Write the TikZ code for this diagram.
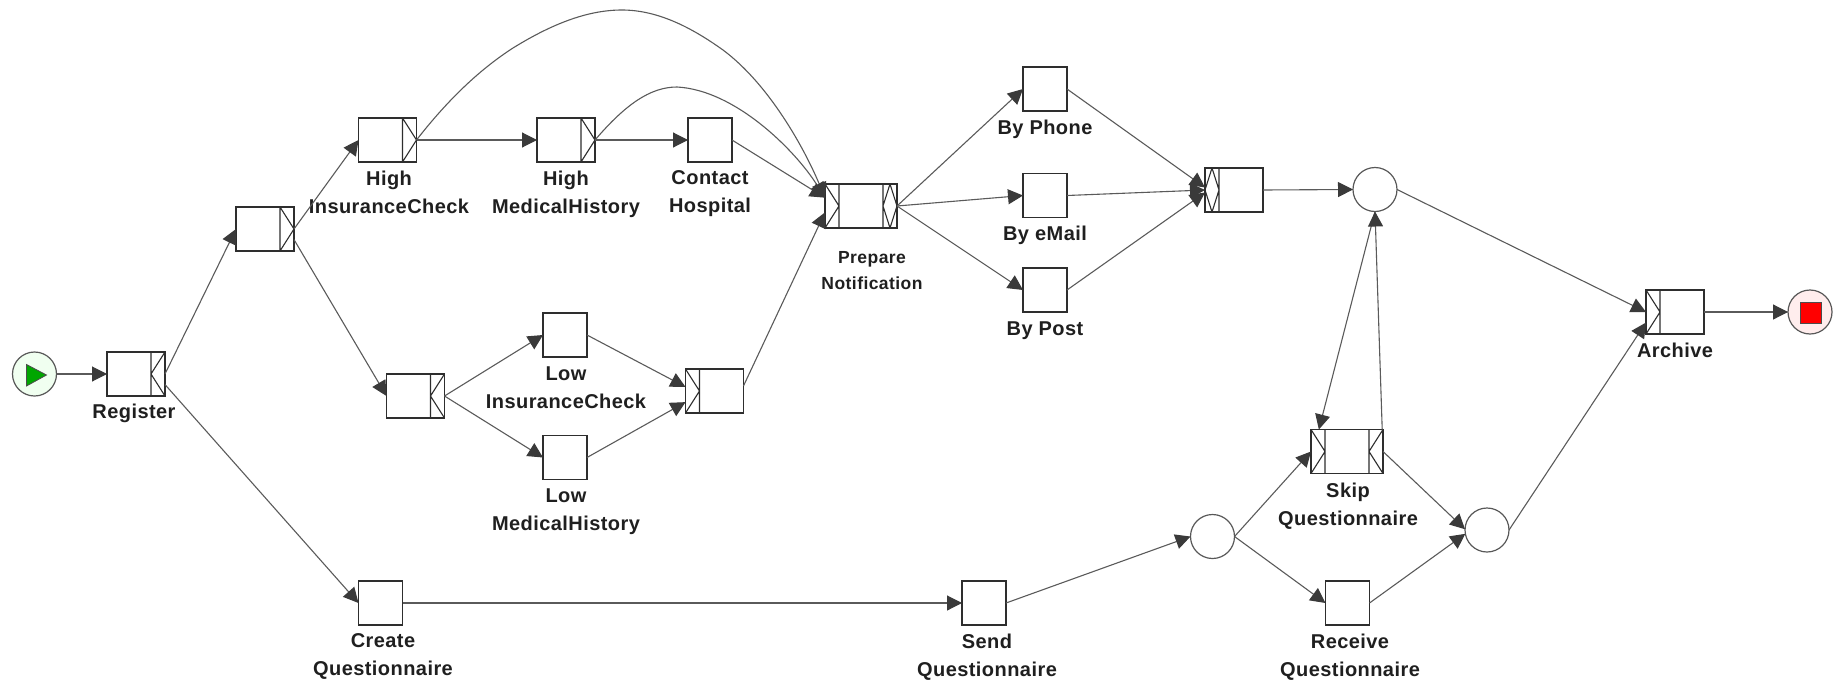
\documentclass[tikz,border=0pt]{standalone}
\usepackage{fontspec}
\setmainfont{Liberation Sans}
\usetikzlibrary{arrows.meta}
\definecolor{edgecol}{HTML}{5A5A5A}
\definecolor{tipcol}{HTML}{3A3A3A}
\definecolor{boxcol}{HTML}{2E2E2E}
\newcommand{\pb}{path picture bounding box}
\newcommand{\mkOutGt}{\draw[inmark] ([xshift=-14pt]\pb.north east)--([xshift=-14pt]\pb.south east)
  ([xshift=-14pt]\pb.north east)--(\pb.east)--([xshift=-14pt]\pb.south east);}
\newcommand{\mkOutLt}{\draw[inmark] ([xshift=-14pt]\pb.north east)--([xshift=-14pt]\pb.south east)
  (\pb.north east)--([xshift=-14pt]\pb.east)--(\pb.south east);}
\newcommand{\mkOutDia}{\draw[inmark] ([xshift=-14pt]\pb.north east)--([xshift=-14pt]\pb.south east)
  ([xshift=-7pt]\pb.north east)--([xshift=-14pt]\pb.east)--([xshift=-7pt]\pb.south east)--(\pb.east)--cycle;}
\newcommand{\mkInGt}{\draw[inmark] ([xshift=14pt]\pb.north west)--([xshift=14pt]\pb.south west)
  (\pb.north west)--([xshift=14pt]\pb.west)--(\pb.south west);}
\newcommand{\mkInDia}{\draw[inmark] ([xshift=14pt]\pb.north west)--([xshift=14pt]\pb.south west)
  ([xshift=7pt]\pb.north west)--(\pb.west)--([xshift=7pt]\pb.south west)--([xshift=14pt]\pb.west)--cycle;}
\tikzset{
  inmark/.style={line width=1.1pt,draw=boxcol},
  task/.style={draw=boxcol,line width=1.1pt,fill=white,inner sep=0pt,outer sep=0pt,minimum width=#1,minimum height=44pt},
  task/.default=44pt,
  place/.style={circle,draw=boxcol!80,line width=1.2pt,fill=white,inner sep=0pt,outer sep=0pt,minimum size=44pt},
  edge/.style={draw=edgecol,line width=1.1pt,-{Triangle[length=15pt,width=15pt,fill=tipcol,color=tipcol]}},
  labstrut/.style={execute at begin node={\rule{0pt}{15pt}},execute at end node={\rule[-5pt]{0pt}{5pt}}},
  lab/.style={labstrut,font=\bfseries\fontsize{20}{28}\selectfont\addfontfeature{LetterSpace=2.2},text=black!88,align=center,inner sep=0pt},
}
\begin{document}
\begin{tikzpicture}[x=1pt,y=-1pt]
\useasboundingbox (0,0) rectangle (1833,680);
% start / end
\node[place,fill=green!6] (start) at (34.5,374) {};
\fill[fill=green!65!black,draw=black!70,line width=0.8pt] (26.5,364.5) -- (46.5,375) -- (26.5,386) -- cycle;
\node[place,fill=red!7] (stop) at (1810,312) {};
\node[draw=black!70,line width=1pt,fill=red,inner sep=0pt,minimum size=21pt] (stopmark) at (1810.5,312.5) {};
% tasks
\node[task=58pt,path picture={\mkOutLt}] (reg) at (136,374) {};
\node[task=58pt,path picture={\mkOutGt}] (sa) at (265,229) {};
\node[task=58pt,path picture={\mkOutLt}] (sb) at (415.5,396) {};
\node[task=58pt,path picture={\mkOutGt}] (hi) at (387.5,140) {};
\node[task=58pt,path picture={\mkOutGt}] (hm) at (566,140) {};
\node[task] (ch) at (710,140) {};
\node[task] (li) at (565,335) {};
\node[task] (lm) at (565,457.5) {};
\node[task=58pt,path picture={\mkInGt}] (lj) at (714.5,391) {};
\node[task=72pt,path picture={\mkInGt\mkOutDia}] (pn) at (861,206) {};
\node[task] (bph) at (1045,89) {};
\node[task] (bem) at (1045,195.5) {};
\node[task] (bpo) at (1045,290) {};
\node[task=58pt,path picture={\mkInDia}] (jn) at (1234,190) {};
\node[place] (c1) at (1375,189.5) {};
\node[task=58pt,path picture={\mkInGt}] (ar) at (1675,312) {};
\node[task=72pt,path picture={\mkInGt\mkOutLt}] (sk) at (1347,451.5) {};
\node[place] (c2) at (1487,530) {};
\node[place] (c3) at (1212.5,536.5) {};
\node[task] (cq) at (380.5,603) {};
\node[task] (sq) at (984,603) {};
\node[task] (rq) at (1347.5,603) {};
% labels
\node[lab] (t1) at (134,413.5) {Register};
\node[lab] (t2) at (389,194.5) {High\\InsuranceCheck};
\node[lab] (t3) at (566,194.5) {High\\MedicalHistory};
\node[lab] (t4) at (710,194.5) {Contact\\Hospital};
\node[lab] (t5) at (566,390) {Low\\InsuranceCheck};
\node[lab] (t6) at (566,512) {Low\\MedicalHistory};
\node[lab,font=\bfseries\fontsize{17.5}{26}\selectfont\addfontfeature{LetterSpace=2.5}] (t7) at (872,272.5) {Prepare\\Notification};
\node[lab] (t8) at (1045,129) {By Phone};
\node[lab] (t9) at (1045,235) {By eMail};
\node[lab] (t10) at (1045,330.5) {By Post};
\node[lab] (t11) at (1348,507) {Skip\\Questionnaire};
\node[lab] (t12) at (1675,352.5) {Archive};
\node[lab] (t13) at (383,657.5) {Create\\Questionnaire};
\node[lab] (t14) at (987,657.5) {Send\\Questionnaire};
\node[lab] (t15) at (1350,657.5) {Receive\\Questionnaire};
% connectors
\draw[edge] (start.east) -- (reg.west);
\draw[edge] (reg.east) -- (sa.west);
\draw[edge] (reg.-20) -- (cq.west);
\draw[edge] (sa.east) -- (hi.west);
\draw[edge] (sa.-20) -- (sb.west);
\draw[edge] (hi.east) -- (hm.west);
\draw[edge] (hm.east) -- (ch.west);
\coordinate (u1) at (513,48);
\coordinate (u2) at (622,10);
\coordinate (u3) at (723,50);
\coordinate (v1) at (677,87);
\draw[edge] (hi.east) .. controls (450,97) and (482,68) .. (u1)
  .. controls (555,22) and (590,10) .. (u2)
  .. controls (660,10) and (695,30) .. (u3)
  .. controls (770,85) and (805,150) .. (pn.167);
\draw[edge] (hm.east) .. controls (625,105) and (650,87) .. (v1)
  .. controls (735,90) and (795,150) .. (pn.167);
\draw[edge] (ch.east) -- (pn.167);
\draw[edge] (sb.east) -- (li.west);
\draw[edge] (sb.east) -- (lm.west);
\draw[edge] (li.east) -- (lj.172);
\draw[edge] (lm.east) -- (lj.201);
\draw[edge] (lj.10) -- (pn.190);
\draw[edge] (pn.east) -- (bph.west);
\draw[edge] (pn.east) -- (bem.west);
\draw[edge] (pn.east) -- (bpo.west);
\draw[edge] (bph.east) -- (jn.175);
\draw[edge] (bem.east) -- (jn.180);
\draw[edge] (bpo.east) -- (jn.185);
\draw[edge] (jn.east) -- (c1.west);
\draw[edge] (c1.east) -- (ar.west);
\draw[edge] (c2.east) -- (ar.200);
\draw[edge] (ar.east) -- (stop.west);
\draw[edge] (cq.east) -- (sq.west);
\draw[edge] (sq.east) -- (c3.west);
\draw[edge] (c3.east) -- (sk.west);
\draw[edge] (c3.east) -- (rq.west);
\draw[edge] (c1.south) -- (sk.142.5);
\draw[edge] (sk.32) -- (c1.south);
\draw[edge] (sk.east) -- (c2.178);
\draw[edge] (rq.east) -- (c2.190);
\end{tikzpicture}
\end{document}
